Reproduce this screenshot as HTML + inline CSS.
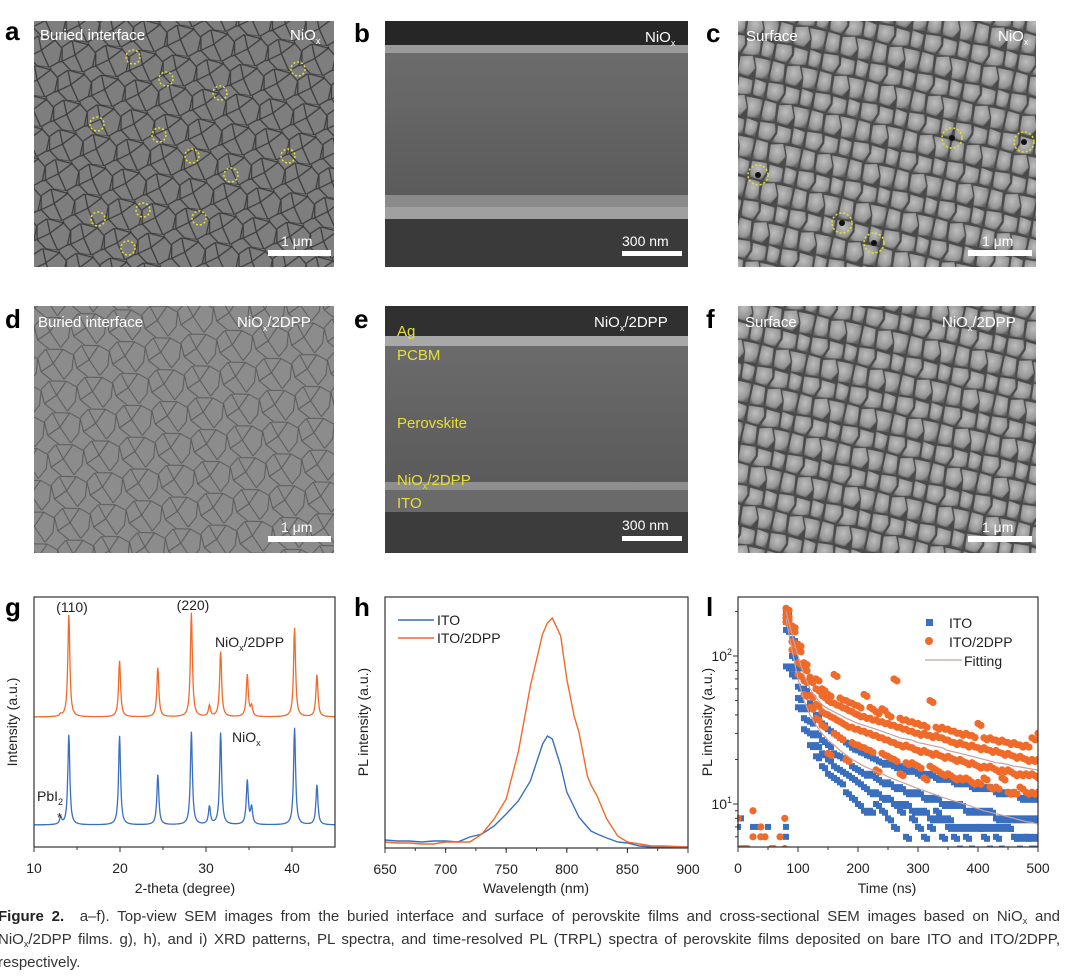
<!DOCTYPE html>
<html><head><meta charset="utf-8">
<style>
html,body{margin:0;padding:0;background:#fff;}
body{width:1066px;height:976px;position:relative;overflow:hidden;font-family:"Liberation Sans",sans-serif;}
#cap{position:absolute;left:-2px;top:905px;width:1062px;font-size:15px;line-height:23px;color:#333;}
#cap div{text-align:justify;text-align-last:justify;white-space:nowrap;height:23px;}
#cap div.last{text-align-last:left;}
#cap sub{font-size:9px;line-height:0;vertical-align:-3px;}
</style></head><body>
<svg id="fig" width="1066" height="976" viewBox="0 0 1066 976" style="position:absolute;left:0;top:0" font-family="Liberation Sans, sans-serif">
<defs>
<pattern id="grainA" width="34" height="30" patternUnits="userSpaceOnUse" patternTransform="rotate(8)">
<path d="M0 8 L9 0 M9 0 L26 2 L34 9 M26 2 L25 -2 M0 8 L2 22 L12 30 M2 22 L-2 24 M34 9 L33 23 L24 30 M33 23 L36 24 M12 30 L24 30 M9 0 L14 14 L26 2 M14 14 L2 22 M14 14 L24 30" stroke="#3c3c3c" stroke-width="1.3" fill="none"/>
</pattern>
<pattern id="grainD" width="36" height="32" patternUnits="userSpaceOnUse" patternTransform="rotate(-6)">
<path d="M0 8 L9 0 L26 2 L36 9 M0 8 L2 22 L12 32 M36 9 L33 23 L24 32 M9 0 L15 15 L26 2 M15 15 L2 22 M15 15 L24 32" stroke="#5a5a5a" stroke-width="1" fill="none"/>
</pattern>
<radialGradient id="gr" cx="45%" cy="40%" r="65%"><stop offset="0" stop-color="#bdbdbd"/><stop offset="0.75" stop-color="#959595"/><stop offset="1" stop-color="#626262"/></radialGradient>
<pattern id="grainC" width="48" height="40" patternUnits="userSpaceOnUse" patternTransform="rotate(12)">
<rect width="48" height="40" fill="#4a4a4a"/>
<polygon points="1,1 16,0 18,8 14,18 2,17" fill="url(#gr)"/>
<polygon points="19,1 33,2 34,16 16,19 20,9" fill="url(#gr)"/>
<polygon points="35,0 47,2 47,17 36,16" fill="url(#gr)"/>
<polygon points="1,19 13,20 15,38 1,39" fill="url(#gr)"/>
<polygon points="16,21 28,18 33,30 28,39 17,38" fill="url(#gr)"/>
<polygon points="30,19 47,19 47,38 35,39 34,29" fill="url(#gr)"/>
</pattern>
<linearGradient id="bgB" x1="0" y1="0" x2="0" y2="1"><stop offset="0" stop-color="#707070"/><stop offset="1" stop-color="#525252"/></linearGradient>
<clipPath id="clipI"><rect x="737" y="597" width="301" height="250"/></clipPath>
</defs>

<g>
<rect x="34" y="21" width="300" height="246" fill="#7e7e7e"/>
<rect x="34" y="21" width="300" height="246" fill="url(#grainA)"/>
<g id="circA" fill="none" stroke="#e8e030" stroke-width="1.5" stroke-dasharray="2 2"></g>
<text x="40" y="40" fill="#fff" font-size="15">Buried interface</text>
<text x="290" y="40" fill="#fff" font-size="15">NiO<tspan font-size="9" dy="4">x</tspan></text>
<rect x="268" y="250" width="63" height="6" fill="#fff"/>
<text x="281" y="246" fill="#fff" font-size="14">1 μm</text>
</g>
<text x="5" y="40" font-size="26" font-weight="bold">a</text>

<g>
<rect x="385" y="21" width="303" height="246" fill="url(#bgB)"/>
<rect x="385" y="21" width="303" height="24" fill="#262626"/>
<rect x="385" y="45" width="303" height="8" fill="#9a9a9a"/>
<rect x="385" y="195" width="303" height="12" fill="#8a8a8a"/>
<rect x="385" y="207" width="303" height="12" fill="#a0a0a0"/>
<rect x="385" y="219" width="303" height="48" fill="#3a3a3a"/>
<text x="645" y="42" fill="#fff" font-size="15">NiO<tspan font-size="9" dy="4">x</tspan></text>
<rect x="622" y="251" width="60" height="5" fill="#fff"/>
<text x="622" y="246" fill="#fff" font-size="14">300 nm</text>
</g>
<text x="354" y="42" font-size="26" font-weight="bold">b</text>

<g>
<rect x="738" y="21" width="298" height="246" fill="url(#grainC)"/>
<g id="circC" fill="none" stroke="#e8e030" stroke-width="1.5" stroke-dasharray="2 2"></g>
<text x="746" y="41" fill="#fff" font-size="15">Surface</text>
<text x="998" y="41" fill="#fff" font-size="15">NiO<tspan font-size="9" dy="4">x</tspan></text>
<rect x="968" y="250" width="64" height="6" fill="#fff"/>
<text x="982" y="246" fill="#fff" font-size="14">1 μm</text>
</g>
<text x="706" y="42" font-size="26" font-weight="bold">c</text>

<g>
<rect x="34" y="306" width="300" height="247" fill="#8c8c8c"/>
<rect x="34" y="306" width="300" height="247" fill="url(#grainD)"/>
<text x="38" y="327" fill="#fff" font-size="15">Buried interface</text>
<text x="237" y="327" fill="#fff" font-size="15">NiO<tspan font-size="9" dy="4">x</tspan><tspan dy="-4">/2DPP</tspan></text>
<rect x="268" y="536" width="63" height="6" fill="#fff"/>
<text x="281" y="532" fill="#fff" font-size="14">1 μm</text>
</g>
<text x="5" y="328" font-size="26" font-weight="bold">d</text>

<g>
<rect x="385" y="306" width="303" height="247" fill="url(#bgB)"/>
<rect x="385" y="306" width="303" height="30" fill="#303030"/>
<rect x="385" y="336" width="303" height="10" fill="#a8a8a8"/>
<rect x="385" y="482" width="303" height="8" fill="#8e8e8e"/>
<rect x="385" y="490" width="303" height="22" fill="#6a6a6a"/>
<rect x="385" y="512" width="303" height="41" fill="#3c3c3c"/>
<g fill="#e8e030" font-size="15">
<text x="397" y="336">Ag</text>
<text x="397" y="360">PCBM</text>
<text x="397" y="428">Perovskite</text>
<text x="397" y="485">NiO<tspan font-size="9" dy="4">x</tspan><tspan dy="-4">/2DPP</tspan></text>
<text x="397" y="508">ITO</text>
</g>
<text x="594" y="327" fill="#fff" font-size="15">NiO<tspan font-size="9" dy="4">x</tspan><tspan dy="-4">/2DPP</tspan></text>
<rect x="622" y="536" width="60" height="5" fill="#fff"/>
<text x="622" y="530" fill="#fff" font-size="14">300 nm</text>
</g>
<text x="354" y="328" font-size="26" font-weight="bold">e</text>

<g>
<rect x="738" y="306" width="298" height="247" fill="url(#grainC)"/>
<text x="745" y="327" fill="#fff" font-size="15">Surface</text>
<text x="942" y="327" fill="#fff" font-size="15">NiO<tspan font-size="9" dy="4">x</tspan><tspan dy="-4">/2DPP</tspan></text>
<rect x="968" y="536" width="64" height="6" fill="#fff"/>
<text x="982" y="532" fill="#fff" font-size="14">1 μm</text>
</g>
<text x="706" y="328" font-size="26" font-weight="bold">f</text>

<text x="5" y="616" font-size="26" font-weight="bold">g</text>
<text x="354" y="616" font-size="26" font-weight="bold">h</text>
<text x="706" y="616" font-size="26" font-weight="bold">l</text>

<g id="chartG"></g>
<g id="chartH"></g>
<g id="chartI"></g>
</svg>

<div id="cap">
<div><b style="color:#222">Figure 2.</b>&nbsp; a–f). Top-view SEM images from the buried interface and surface of perovskite films and cross-sectional SEM images based on NiO<sub>x</sub> and</div>
<div>NiO<sub>x</sub>/2DPP films. g), h), and i) XRD patterns, PL spectra, and time-resolved PL (TRPL) spectra of perovskite films deposited on bare ITO and ITO/2DPP,</div>
<div class="last">respectively.</div>
</div>

<script>
// ---------- XRD data (g) ----------
const xrdPeakPos = [13.1, 14.05, 19.95, 24.4, 28.3, 30.4, 31.7, 34.8, 35.3, 40.3, 42.9];
const xrdDppHeights = [2, 102, 56, 49, 104, 11, 65, 42, 10, 89, 42];
const xrdItoHeights = [7, 90, 89, 50, 93, 18, 92, 44, 17, 97, 40];
const xrdDppBaseline = 130;
const xrdItoBaseline = 22;
const xrdXTicks = [10, 20, 30, 40];

// ---------- PL data (h) ----------
const plWavelengths = [650,660,670,680,690,700,710,720,730,740,750,760,770,780,784,788,795,800,806,810,817,820,825,833,842,850,860,870,880,900];
const plDpp = [5,4,4,3,3,5,5,5,13,28,48,95,161,213,224,229,211,168,131,115,71,62,51,28,11,5,3,1,1,0];
const plIto = [7,6,6,5,6,6,5,10,13,21,33,46,66,103,111,108,81,55,40,30,20,16,13,9,5,4,1,0,0,0];
const plXTicks = [650, 700, 750, 800, 850, 900];

// ---------- TRPL data (i) ----------
const trTimes = [80,90,100,110,120,130,140,150,160,170,180,190,200,210,220,230,240,250,260,270,280,290,300,310,320,330,340,350,360,370,380,390,400,410,420,430,440,450,460,470,480,490,500];
const dppA = [210,160,120,90,72,70,60,55,75,52,50,48,46,55,45,42,44,40,70,38,37,36,35,34,50,33,33,32,31,30,30,29,35,28,28,27,27,26,26,25,25,28,30];
const dppB = [190,150,110,82,68,60,54,50,48,46,44,42,40,39,38,37,36,35,34,33,32,31,30,30,29,29,28,27,26,26,25,25,24,24,23,23,22,22,21,21,20,20,20];
const dppC = [180,125,90,68,54,47,42,40,38,36,34,33,32,31,30,29,28,27,26,25,25,24,23,23,22,22,21,21,20,20,19,19,18,18,18,17,17,17,16,16,16,16,15];
const dppD = [170,110,75,55,45,38,34,22,30,28,20,26,25,24,23,17,22,21,20,16,19,19,18,15,18,17,16,16,15,15,15,14,14,15,13,13,15,12,12,13,12,12,12];
const itoA = [200,130,85,60,48,40,35,32,30,28,26,24,23,22,21,20,19,19,18,18,17,17,16,16,16,15,15,15,14,14,14,13,13,13,13,12,12,12,12,11,11,11,11];
const itoB = [170,100,62,45,36,30,27,25,22,21,20,18,17,16,16,15,14,14,13,13,12,12,12,11,11,11,10,10,10,10,9,9,9,9,9,8,8,8,8,8,8,8,8];
const itoC = [150,85,52,38,30,25,22,20,18,17,16,15,14,13,12,12,11,11,10,10,10,9,9,9,8,8,8,8,7,7,7,7,7,7,7,7,7,7,6,6,6,6,6];
const itoD = [85,75,45,32,25,21,18,16,15,14,12,11,10,9,9,10,9,8,7,9,6,8,7,6,7,9,6,7,6,5,6,5,7,6,5,6,5,7,6,5,6,5,5];
const fitDpp = [200,140,100,75,60,52,47,44,42,40,38,36.5,35,34,33,32,31,30,29,28,27.5,27,26,25.5,25,24.5,24,23,22.5,22,21.5,21,20.5,20,19.5,19,18.8,18.5,18,17.8,17.5,17.2,17];
const fitIto = [180,110,70,50,40,34,30,27,25,23,21.5,20,19,18,17.3,16.6,16,15.3,14.7,14.2,13.7,13.2,12.7,12.3,11.9,11.5,11.1,10.8,10.5,10.2,9.9,9.6,9.3,9,8.8,8.6,8.4,8.2,8,7.8,7.6,7.5,7.3];
const earlyDppT = [0,5,10,15,25,25,38,38,45,55,60,70,78,78];
const earlyDppV = [8,5,5,5,9,6,7,6,6,5,5,6,8,5];
const earlyItoT = [0,5,5,15,25,35,50,80,80];
const earlyItoV = [7,8,5,5,7,7,7,7,6];
const trXTicks = [0, 100, 200, 300, 400, 500];

const NS = 'http://www.w3.org/2000/svg';
const BLUE = '#3a6fbf', ORANGE = '#f06a2a';
function mk(parent, tag, attrs) {
  const e = document.createElementNS(NS, tag);
  for (const k in attrs) e.setAttribute(k, attrs[k]);
  parent.appendChild(e);
  return e;
}

const circAx = [133,166,220,298,97,159,192,288,231,143,98,199,128];
const circAy = [57,79,93,69,124,135,156,156,175,210,219,218,248];
const cA = document.getElementById('circA');
circAx.forEach((x, i) => { const c = mk(cA, 'circle', {cx: x, cy: circAy[i], r: 7});
  
   });
const circCx = [758,952,1024,842,874], circCy = [175,138,142,223,243];
const cC = document.getElementById('circC');
circCx.forEach((x, i) => {
  mk(cC, 'circle', {cx: x, cy: circCy[i], r: 3, fill: '#111', stroke: 'none'});
  const c = mk(cC, 'circle', {cx: x, cy: circCy[i], r: 10});
  
   });

function frame(g, L, T, R, B) {
  mk(g, 'rect', {x: L, y: T, width: R - L, height: B - T, fill: 'none', stroke: '#333', 'stroke-width': 1.2});
}
function xticks(g, ticks, minorStep, sx, B) {
  const t0 = ticks[0], t1 = ticks[ticks.length - 1];
  for (let v = t0; v <= t1 + 1e-9; v += minorStep) mk(g, 'line', {x1: sx(v), x2: sx(v), y1: B, y2: B + 3, stroke: '#333'});
  ticks.forEach(v => {
    mk(g, 'line', {x1: sx(v), x2: sx(v), y1: B, y2: B + 5, stroke: '#333'});
    const t = mk(g, 'text', {x: sx(v), y: B + 26, 'text-anchor': 'middle', 'font-size': 14, fill: '#222'});
    t.textContent = v;
    
    
  });
}
function label(g, x, y, txt, rot, name) {
  const t = mk(g, 'text', {x: x, y: y, 'text-anchor': 'middle', 'font-size': 14, fill: '#222'});
  if (rot) t.setAttribute('transform', `rotate(-90 ${x} ${y})`);
  t.textContent = txt;
  
  
}

(function () {
  const g = document.getElementById('chartG');
  const L = 34, R = 335, T = 597, B = 847;
  const sx = v => L + (v - 10) / 35 * (R - L);
  const sy = v => B - v;
  function curve(base, heights) {
    const pts = [];
    for (let x = 10; x <= 45; x += 0.05) {
      let y = base;
      xrdPeakPos.forEach((p, i) => { const w = 0.14; y += heights[i] / (1 + ((x - p) / w) ** 2); });
      pts.push(sx(x).toFixed(1) + ',' + sy(y).toFixed(1));
    }
    return pts.join(' ');
  }
  const o = mk(g, 'polyline', {points: curve(xrdDppBaseline, xrdDppHeights), fill: 'none', stroke: ORANGE, 'stroke-width': 1.3});
  
  
  const b = mk(g, 'polyline', {points: curve(xrdItoBaseline, xrdItoHeights), fill: 'none', stroke: BLUE, 'stroke-width': 1.3});
  
  
  frame(g, L, T, R, B);
  xticks(g, xrdXTicks, 5, sx, B);
  label(g, 185, 893, '2-theta (degree)', false, 'x-axis-title');
  label(g, 17, 722, 'Intensity (a.u.)', true, 'y-axis-title');
  [['(110)', 72, 612], ['(220)', 193, 610]].forEach(a => { const t = mk(g, 'text', {x: a[1], y: a[2], 'text-anchor': 'middle', 'font-size': 14, fill: '#222'}); t.textContent = a[0];
      });
  let t = mk(g, 'text', {x: 215, y: 647, 'font-size': 14, fill: '#222'}); t.innerHTML = 'NiO<tspan font-size="9" dy="4">x</tspan><tspan dy="-4">/2DPP</tspan>';
   
  t = mk(g, 'text', {x: 232, y: 742, 'font-size': 14, fill: '#222'}); t.innerHTML = 'NiO<tspan font-size="9" dy="4">x</tspan>';
   
  t = mk(g, 'text', {x: 37, y: 801, 'font-size': 14, fill: '#222'}); t.innerHTML = 'PbI<tspan font-size="9" dy="4">2</tspan>';
   
  t = mk(g, 'text', {x: 57, y: 822, 'font-size': 13, fill: '#222'}); t.textContent = '*';
})();

(function () {
  const g = document.getElementById('chartH');
  const L = 385, R = 688, T = 597, B = 848;
  const sx = v => L + (v - 650) / 250 * (R - L);
  const sy = v => B - 1 - v;
  const line = (arr, col, name) => {
    const p = mk(g, 'polyline', {points: plWavelengths.map((w, i) => sx(w).toFixed(1) + ',' + sy(arr[i]).toFixed(1)).join(' '), fill: 'none', stroke: col, 'stroke-width': 1.4});
    
    
  };
  line(plIto, BLUE, 'pl-ito-line');
  line(plDpp, ORANGE, 'pl-ito-2dpp-line');
  frame(g, L, T, R, B);
  xticks(g, plXTicks, 25, sx, B);
  label(g, 536, 893, 'Wavelength (nm)', false, 'x-axis-title');
  label(g, 368, 722, 'PL intensity (a.u.)', true, 'y-axis-title');
  [['ITO', BLUE, 620], ['ITO/2DPP', ORANGE, 638]].forEach(l => {
    mk(g, 'line', {x1: 398, x2: 434, y1: l[2], y2: l[2], stroke: l[1], 'stroke-width': 1.5});
    const t = mk(g, 'text', {x: 437, y: l[2] + 5, 'font-size': 14, fill: '#222'}); t.textContent = l[0];
     
  });
})();

(function () {
  const g = document.getElementById('chartI');
  const L = 738, R = 1038, T = 597, B = 847;
  const sx = v => L + v / 500 * (R - L);
  const sy = v => 804 - (Math.log10(v) - 1) * 148;
  const pts = mk(g, 'g', {'clip-path': 'url(#clipI)'});
  const sq = (t, v) => { const r = mk(pts, 'rect', {x: sx(t) - 3, y: sy(v) - 3, width: 6, height: 6, fill: BLUE});
      };
  const ci = (t, v) => { const c = mk(pts, 'circle', {cx: sx(t), cy: sy(v), r: 3.6, fill: ORANGE});
      };
  [itoA, itoB, itoC, itoD].forEach(arr => arr.forEach((v, i) => { sq(trTimes[i], v); sq(trTimes[i] + 5, v * 0.97); }));
  earlyItoT.forEach((t, i) => sq(t, earlyItoV[i]));
  [dppA, dppB, dppC, dppD].forEach(arr => arr.forEach((v, i) => { ci(trTimes[i], v); ci(trTimes[i] + 5, v * 0.97); }));
  earlyDppT.forEach((t, i) => ci(t, earlyDppV[i]));
  [fitIto, fitDpp].forEach((arr, k) => {
    const p = mk(pts, 'polyline', {points: trTimes.map((t, i) => sx(t).toFixed(1) + ',' + sy(arr[i]).toFixed(1)).join(' '), fill: 'none', stroke: '#c8a0a0', 'stroke-width': 1.2});
    
    
  });
  frame(g, L, T, R, B);
  xticks(g, trXTicks, 50, sx, B);
  [6,7,8,9,20,30,40,50,60,70,80,90,200].forEach(v => mk(g, 'line', {x1: L - 3, x2: L, y1: sy(v), y2: sy(v), stroke: '#333'}));
  [[10, '1'], [100, '2']].forEach(d => {
    mk(g, 'line', {x1: L - 5, x2: L, y1: sy(d[0]), y2: sy(d[0]), stroke: '#333'});
    const t = mk(g, 'text', {x: L - 6, y: sy(d[0]) + 5, 'text-anchor': 'end', 'font-size': 14, fill: '#222'});
    t.innerHTML = '10<tspan font-size="9" dy="-6">' + d[1] + '</tspan>';
     
  });
  label(g, 887, 893, 'Time (ns)', false, 'x-axis-title');
  label(g, 712, 722, 'PL intensity (a.u.)', true, 'y-axis-title');
  mk(g, 'rect', {x: 926, y: 619, width: 7, height: 7, fill: BLUE});
  mk(g, 'circle', {cx: 929, cy: 641, r: 4, fill: ORANGE});
  mk(g, 'line', {x1: 925, x2: 962, y1: 660, y2: 660, stroke: '#c8a0a0', 'stroke-width': 1.3});
  [['ITO', 949, 628], ['ITO/2DPP', 949, 647], ['Fitting', 964, 666]].forEach(l => {
    const t = mk(g, 'text', {x: l[1], y: l[2], 'font-size': 14, fill: '#222'}); t.textContent = l[0];
     
  });
})();
</script>
</body></html>
